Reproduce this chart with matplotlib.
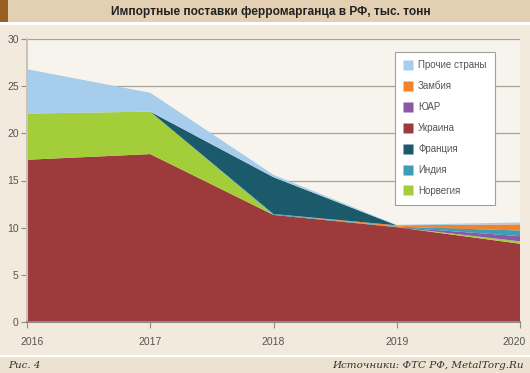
import matplotlib
matplotlib.use("Agg")
import matplotlib.pyplot as plt
from matplotlib.patches import Rectangle
from matplotlib.lines import Line2D
from matplotlib.transforms import ScaledTranslation

years = [2016, 2017, 2018, 2019, 2020]
ukraine = [17.2, 17.8, 11.35, 10.05, 8.3]
norway = [4.9, 4.5, 0.0, 0.0, 0.25]
rsa = [0.0, 0.0, 0.0, 0.0, 0.55]
india = [0.0, 0.0, 0.1, 0.05, 0.6]
zambia = [0.0, 0.0, 0.0, 0.15, 0.65]
france = [0.0, 0.0, 3.9, 0.0, 0.0]
others = [4.7, 2.0, 0.25, 0.05, 0.2]

stack_labels = ["Украина", "Норвегия", "ЮАР", "Индия", "Замбия", "Франция", "Прочие страны"]
stack_values = [ukraine, norway, rsa, india, zambia, france, others]
colors = {
    "Украина": "#9d3a3c",
    "Норвегия": "#a3cd39",
    "ЮАР": "#8b58a6",
    "Индия": "#3b9db6",
    "Замбия": "#f2832a",
    "Франция": "#1a5a6b",
    "Прочие страны": "#a6cdec",
}
legend_order = ["Прочие страны", "Замбия", "ЮАР", "Украина", "Франция", "Индия", "Норвегия"]
title = "Импортные поставки ферромарганца в РФ, тыс. тонн"

plt.rcParams["font.family"] = ["Liberation Sans", "DejaVu Sans"]

W, H = 530, 373
fig = plt.figure(figsize=(W / 100, H / 100), dpi=100)
fig.patch.set_facecolor("#f2eadd")

# title band
fig.patches.append(Rectangle((0, 1 - 22 / H), 1, 22 / H, transform=fig.transFigure,
                             facecolor="#e3cfb1", edgecolor="none", zorder=0))
fig.patches.append(Rectangle((0, 1 - 22 / H), 8 / W, 22 / H, transform=fig.transFigure,
                             facecolor="#9a5f1f", edgecolor="none", zorder=1))
fig.patches.append(Rectangle((0, 1 - 25 / H), 1, 3 / H, transform=fig.transFigure,
                             facecolor="#ffffff", edgecolor="none", zorder=0))
# bottom band
fig.patches.append(Rectangle((0, 0), 1, 16 / H, transform=fig.transFigure,
                             facecolor="#ebe2d1", edgecolor="none", zorder=0))
fig.patches.append(Rectangle((0, 16 / H), 1, 2 / H, transform=fig.transFigure,
                             facecolor="#ffffff", edgecolor="none", zorder=0))

fig.text(271 / W, 1 - 12 / H, title, ha="center", va="center", fontsize=8.6,
         fontweight="bold", color="#222222")
fig.text(8 / W, 7.5 / H, "Рис. 4", ha="left", va="center", fontsize=7.5,
         style="italic", family="DejaVu Serif", color="#333333")
fig.text(524 / W, 7.5 / H, "Источники: ФТС РФ, MetalTorg.Ru", ha="right", va="center",
         fontsize=7.5, style="italic", family="DejaVu Serif", color="#333333")

left, right = 27 / W, 520 / W
top, bottom = 1 - 39 / H, 1 - 322 / H
ax = fig.add_axes([left, bottom, right - left, top - bottom])
ax.set_facecolor("#f7f4ee")

ax.stackplot(years, *stack_values, colors=[colors[l] for l in stack_labels],
             linewidth=0, zorder=2)

ax.set_xlim(2016, 2020)
ax.set_ylim(0, 30)
ax.set_yticks([0, 5, 10, 15, 20, 25, 30])
ax.set_xticks(years)
ax.set_xticklabels([str(y) for y in years])
ax.yaxis.grid(True, color="#a7a39b", linewidth=0.9, zorder=1)
ax.set_axisbelow(True)
for s in ["top", "right"]:
    ax.spines[s].set_visible(False)
ax.spines["left"].set_color("#c9c3b8")
ax.spines["left"].set_linewidth(1.5)
ax.spines["bottom"].set_color("#8c8c8c")
ax.spines["bottom"].set_linewidth(1.5)
ax.spines["bottom"].set_zorder(3)
ax.tick_params(axis="y", length=4, width=0.8, color="#8c8c8c", labelsize=7.5,
               labelcolor="#555555", pad=2)
ax.tick_params(axis="x", length=4, width=0.8, color="#8c8c8c", labelsize=7.5,
               labelcolor="#555555", pad=7)
xl = ax.xaxis.get_majorticklabels()
xl[0].set_transform(xl[0].get_transform() + ScaledTranslation(5 / 100, 0, fig.dpi_scale_trans))
xl[-1].set_transform(xl[-1].get_transform() + ScaledTranslation(-6 / 100, 0, fig.dpi_scale_trans))

handles = [Line2D([], [], marker="s", linestyle="none", markersize=7,
                  markerfacecolor=colors[l], markeredgecolor="none") for l in legend_order]
leg = ax.legend(handles, legend_order, loc="upper right", bbox_to_anchor=(0.95, 0.955),
                fontsize=7, frameon=True, fancybox=False, labelspacing=1.12,
                handletextpad=0.5, borderpad=0.9, handlelength=1.0,
                borderaxespad=0)
leg.get_frame().set_edgecolor("#a0a0a0")
leg.get_frame().set_facecolor("#ffffff")
leg.get_frame().set_linewidth(0.8)
leg.get_frame().set_alpha(1)
for t in leg.get_texts():
    t.set_color("#555555")
leg.set_zorder(5)

fig.savefig("out.png", dpi=100, facecolor=fig.get_facecolor())
